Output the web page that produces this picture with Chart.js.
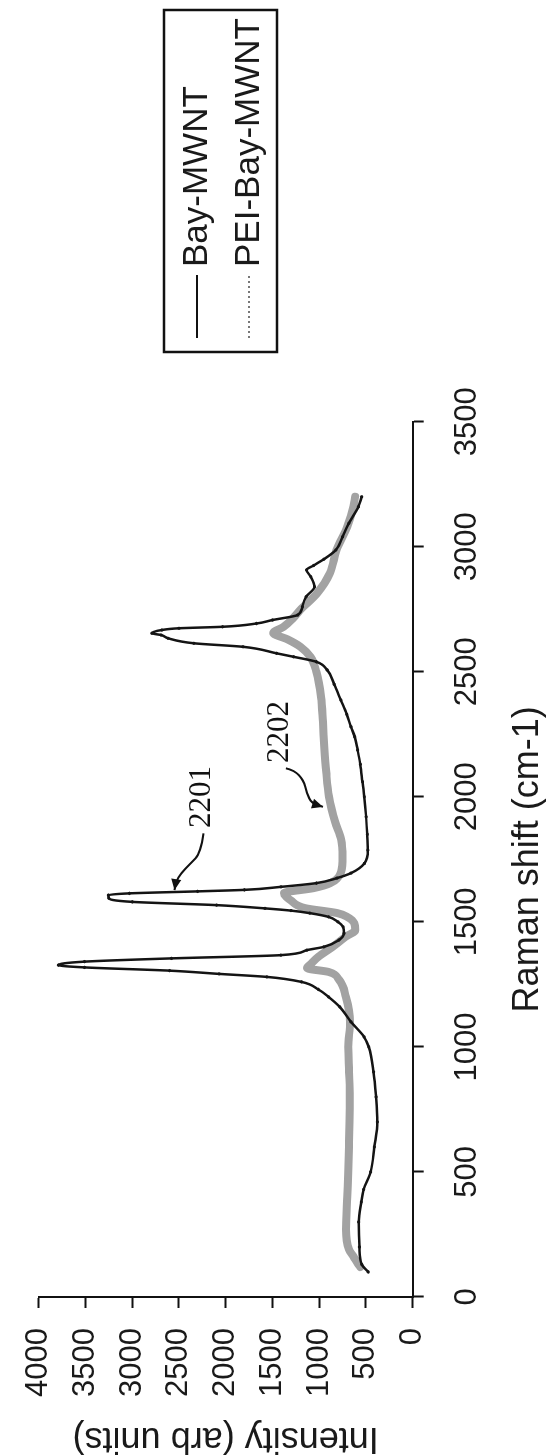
<!DOCTYPE html>
<html>
<head>
<meta charset="utf-8">
<script src="https://cdn.jsdelivr.net/npm/chart.js@4.4.0/dist/chart.umd.min.js"></script>
<style>
  html, body { margin: 0; padding: 0; background: #fff; overflow: hidden; }
  /* the figure is printed sideways: draw it landscape, then turn it */
  #wrap {
    position: absolute; left: 0; top: 0;
    width: 1456px; height: 547px;
    transform-origin: 0 0;
    transform: translateY(1456px) rotate(-90deg);
  }
</style>
</head>
<body>
<div id="wrap"><canvas id="raman" width="1456" height="547"></canvas></div>
<script>
// Bay-MWNT (black)
const bayShift = [100, 130, 200, 300, 380, 430, 500, 600, 700, 800, 900, 1000, 1040, 1100, 1160, 1200, 1230, 1260,
  1280, 1292, 1305, 1318, 1327, 1341, 1354, 1367, 1387, 1400, 1427, 1454, 1480, 1500, 1520, 1535, 1545, 1554,
  1567, 1580, 1595, 1607, 1614, 1622, 1628, 1640, 1655, 1675, 1695, 1734, 1787, 1850, 1920, 2000, 2060, 2130,
  2187, 2240, 2280, 2330, 2387, 2450, 2507, 2540, 2560, 2574, 2600, 2614, 2634, 2647, 2654, 2667, 2674, 2680,
  2693, 2707, 2727, 2760, 2800, 2840, 2880, 2907, 2925, 2950, 2987, 3040, 3094, 3160, 3200];
const bayIntensity = [476, 545, 570, 578, 550, 525, 450, 410, 378, 392, 418, 470, 520, 660, 780, 900, 1010, 1190,
  1560, 2070, 2600, 3510, 3790, 3510, 2580, 1410, 1132, 950, 790, 735, 745, 800, 900, 1100, 1300, 1580,
  2098, 3000, 3250, 3254, 3030, 2300, 1800, 1409, 1030, 810, 660, 516, 480, 486, 498, 518, 537, 560,
  589, 620, 660, 705, 769, 840, 914, 1030, 1274, 1456, 1815, 2340, 2616, 2690, 2790, 2683, 2500, 2033,
  1672, 1500, 1230, 1180, 1140, 1050, 1090, 1135, 1060, 950, 822, 750, 683, 580, 546];

// PEI-Bay-MWNT (grey)
const peiShift = [120, 135, 160, 190, 270, 400, 500, 600, 700, 800, 900, 1000, 1100, 1200, 1268, 1300, 1315, 1335,
  1360, 1400, 1440, 1467, 1495, 1520, 1535, 1555, 1585, 1615, 1635, 1655, 1700, 1760, 1830, 1900, 2000, 2100,
  2200, 2300, 2400, 2500, 2560, 2600, 2630, 2655, 2680, 2710, 2747, 2814, 2894, 2987, 3080, 3160, 3200];
const peiIntensity = [560, 590, 630, 680, 712, 700, 690, 682, 675, 672, 680, 690, 670, 715, 787, 900, 1130, 1080,
  1010, 856, 720, 615, 625, 700, 805, 1150, 1300, 1375, 1060, 880, 765, 750, 765, 830, 895, 925,
  945, 960, 980, 1030, 1094, 1200, 1340, 1490, 1380, 1290, 1203, 1022, 885, 815, 700, 635, 615];

const shiftTicks = [0, 500, 1000, 1500, 2000, 2500, 3000, 3500];
const intensityTicks = [0, 500, 1000, 1500, 2000, 2500, 3000, 3500, 4000];

function toPoints(xs, ys) {
    return xs.map((x, i) => ({ x: x, y: ys[i] }));
}

Chart.defaults.font.family = "'Liberation Sans', Arial, sans-serif";
Chart.defaults.color = "#1a1a1a";

// boxed legend in the upper right corner
const legendBox = {
    id: "legendBox",
    afterDraw(chart) {
        const ctx = chart.ctx;
        ctx.save();
        ctx.strokeStyle = "#111";
        ctx.lineWidth = 2.5;
        ctx.strokeRect(1104, 164, 342, 113);
        ctx.font = "35px 'Liberation Sans', Arial, sans-serif";
        ctx.textBaseline = "middle";
        ctx.textAlign = "left";
        const rows = [197, 249];
        chart.data.datasets.forEach((ds, i) => {
            const y = rows[i];
            ctx.beginPath();
            ctx.strokeStyle = i === 0 ? "#111" : "#777";
            ctx.lineWidth = 2;
            ctx.setLineDash(i === 0 ? [] : [2, 3]);
            ctx.moveTo(1118, y);
            ctx.lineTo(1181, y);
            ctx.stroke();
            ctx.setLineDash([]);
            ctx.fillStyle = "#1a1a1a";
            ctx.fillText(ds.label, 1189, y);
        });
        ctx.restore();
    }
};

// reference numerals with curved leader arrows
const callouts = [
    { text: "2201", at: [1999, 2254],
      path: [[1854, 2236], [1774, 2271], [1734, 2375], [1694, 2478], [1660, 2533], [1627, 2547]] },
    { text: "2202", at: [2259, 1425],
      path: [[2114, 1356], [2107, 1270], [2067, 1167], [2014, 1132], [1974, 1080], [1960, 959]] }
];

const calloutPlugin = {
    id: "callouts",
    afterDraw(chart) {
        const ctx = chart.ctx;
        const sx = chart.scales.x, sy = chart.scales.y;
        ctx.save();
        callouts.forEach(c => {
            const pts = c.path.map(p => [sx.getPixelForValue(p[0]), sy.getPixelForValue(p[1])]);
            ctx.strokeStyle = "#111";
            ctx.lineWidth = 2;
            ctx.beginPath();
            ctx.moveTo(pts[0][0], pts[0][1]);
            for (let i = 1; i < pts.length - 1; i++) {
                const mx = (pts[i][0] + pts[i + 1][0]) / 2;
                const my = (pts[i][1] + pts[i + 1][1]) / 2;
                ctx.quadraticCurveTo(pts[i][0], pts[i][1], mx, my);
            }
            const tip = pts[pts.length - 1];
            const prev = pts[pts.length - 2];
            ctx.lineTo(tip[0], tip[1]);
            ctx.stroke();
            // arrow head
            const a = Math.atan2(tip[1] - prev[1], tip[0] - prev[0]);
            ctx.fillStyle = "#111";
            ctx.beginPath();
            ctx.moveTo(tip[0], tip[1]);
            ctx.lineTo(tip[0] - 11 * Math.cos(a) + 5 * Math.sin(a), tip[1] - 11 * Math.sin(a) - 5 * Math.cos(a));
            ctx.lineTo(tip[0] - 11 * Math.cos(a) - 5 * Math.sin(a), tip[1] - 11 * Math.sin(a) + 5 * Math.cos(a));
            ctx.closePath();
            ctx.fill();
            ctx.font = "31px 'Liberation Serif', 'Times New Roman', serif";
            ctx.textAlign = "center";
            ctx.textBaseline = "middle";
            ctx.fillText(c.text, sx.getPixelForValue(c.at[0]), sy.getPixelForValue(c.at[1]));
        });
        ctx.restore();
    }
};

const axisStyle = {
    display: true,
    drawOnChartArea: false,
    drawTicks: true,
    tickLength: 11,
    tickColor: "#111",
    tickWidth: 2
};

const plainNumber = value => String(value);

const ctx = document.getElementById("raman").getContext("2d");
const chart = new Chart(ctx, {
    type: "line",
    data: {
        datasets: [{
            label: "Bay-MWNT",
            data: toPoints(bayShift, bayIntensity),
            borderColor: "#141414",
            borderWidth: 2.5,
            pointRadius: 1.6,
            pointBorderWidth: 0,
            pointBackgroundColor: "#141414",
            cubicInterpolationMode: "monotone"
        }, {
            label: "PEI-Bay-MWNT",
            data: toPoints(peiShift, peiIntensity),
            borderColor: "#a2a2a2",
            borderWidth: 8,
            pointRadius: 0,
            borderCapStyle: "round",
            borderJoinStyle: "round",
            cubicInterpolationMode: "monotone"
        }]
    },
    options: {
        responsive: false,
        animation: false,
        devicePixelRatio: 1,
        layout: { padding: { left: 0, right: 421.7, top: 26.2, bottom: 0 } },
        plugins: {
            legend: { display: false },
            tooltip: { enabled: false }
        },
        scales: {
            x: {
                type: "linear",
                min: 0,
                max: 3500,
                afterBuildTicks: axis => { axis.ticks = shiftTicks.map(v => ({ value: v })); },
                afterFit: axis => { axis.height = 134.3; },
                grid: axisStyle,
                border: { color: "#111", width: 2 },
                ticks: { font: { size: 31 }, padding: 25, maxRotation: 0, callback: plainNumber },
                title: {
                    display: true,
                    text: "Raman shift (cm-1)",
                    font: { size: 36, lineHeight: 1 },
                    padding: { top: 0, bottom: 1 }
                }
            },
            y: {
                min: 0,
                max: 4000,
                afterBuildTicks: axis => { axis.ticks = intensityTicks.map(v => ({ value: v })); },
                afterFit: axis => { axis.width = 159; },
                grid: axisStyle,
                border: { color: "#111", width: 2 },
                ticks: { font: { size: 31 }, padding: 20, callback: plainNumber },
                title: {
                    display: true,
                    text: "Intensity (arb units)",
                    font: { size: 36, lineHeight: 1 },
                    padding: { top: 0, bottom: 0 }
                }
            }
        }
    },
    plugins: [legendBox, calloutPlugin]
});
</script>
</body>
</html>
